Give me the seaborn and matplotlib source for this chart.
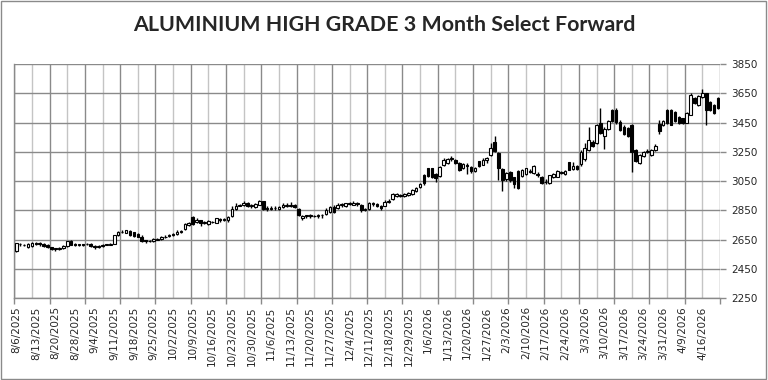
import numpy as np
import matplotlib
matplotlib.use("Agg")
import matplotlib.pyplot as plt
import seaborn as sns

title = "ALUMINIUM HIGH GRADE 3 Month Select Forward"

tick_dates = ["8/6/2025", "8/13/2025", "8/20/2025", "8/28/2025", "9/4/2025", "9/11/2025",
              "9/18/2025", "9/25/2025", "10/2/2025", "10/9/2025", "10/16/2025", "10/23/2025",
              "10/30/2025", "11/6/2025", "11/13/2025", "11/20/2025", "11/27/2025", "12/4/2025",
              "12/11/2025", "12/18/2025", "12/29/2025", "1/6/2026", "1/13/2026", "1/20/2026",
              "1/27/2026", "2/3/2026", "2/10/2026", "2/17/2026", "2/24/2026", "3/3/2026",
              "3/10/2026", "3/17/2026", "3/24/2026", "3/31/2026", "4/9/2026", "4/16/2026"]

# daily OHLC (one value per trading day)
opens = [2572, 2618, 2614, 2598, 2604, 2628, 2625, 2620, 2614, 2596,
         2588, 2584, 2590, 2604, 2640, 2618, 2614, 2616, 2618, 2620,
         2604, 2600, 2608, 2614, 2614, 2622, 2682, 2704, 2696, 2710,
         2700, 2688, 2670, 2644, 2642, 2638, 2650, 2652, 2668, 2676,
         2680, 2686, 2700, 2722, 2752, 2805, 2768, 2782, 2766, 2756,
         2772, 2764, 2792, 2782, 2780, 2812, 2856, 2882, 2888, 2898,
         2876, 2872, 2888, 2910, 2864, 2858, 2866, 2858, 2872, 2880,
         2888, 2882, 2860, 2800, 2808, 2814, 2810, 2808, 2816, 2824,
         2835, 2872, 2866, 2886, 2876, 2898, 2888, 2900, 2886, 2850,
         2860, 2896, 2892, 2880, 2880, 2906, 2925, 2946, 2952, 2948,
         2955, 2960, 2980, 3006, 3090, 3136, 3135, 3095, 3086, 3160,
         3175, 3200, 3194, 3175, 3138, 3162, 3146, 3120, 3186, 3162,
         3196, 3228, 3316, 3240, 3130, 3062, 3112, 3075, 3118, 3082,
         3098, 3120, 3104, 3098, 3080, 3046, 3034, 3078, 3080, 3110,
         3100, 3176, 3130, 3155, 3165, 3200, 3264, 3318, 3308, 3444,
         3356, 3406, 3536, 3534, 3456, 3422, 3410, 3432, 3262, 3172,
         3220, 3250, 3230, 3262, 3440, 3430, 3534, 3538, 3522, 3488,
         3478, 3448, 3502, 3616, 3572, 3622, 3648, 3592, 3568, 3614]
highs = [2628, 2628, 2622, 2628, 2634, 2636, 2632, 2626, 2618, 2600,
         2594, 2596, 2610, 2642, 2646, 2624, 2622, 2622, 2628, 2624,
         2610, 2614, 2618, 2620, 2628, 2684, 2710, 2712, 2716, 2714,
         2704, 2696, 2680, 2650, 2648, 2658, 2660, 2672, 2680, 2690,
         2692, 2714, 2718, 2765, 2768, 2812, 2795, 2786, 2775, 2784,
         2778, 2800, 2796, 2794, 2812, 2876, 2898, 2894, 2915, 2906,
         2890, 2900, 2918, 2915, 2876, 2876, 2880, 2880, 2900, 2900,
         2905, 2896, 2864, 2818, 2820, 2822, 2820, 2826, 2826, 2862,
         2876, 2885, 2900, 2902, 2902, 2908, 2910, 2908, 2890, 2866,
         2908, 2906, 2898, 2886, 2920, 2928, 2968, 2966, 2960, 2965,
         2975, 2992, 3008, 3036, 3095, 3140, 3140, 3105, 3155, 3205,
         3210, 3218, 3200, 3180, 3175, 3172, 3150, 3146, 3190, 3206,
         3215, 3307, 3357, 3250, 3136, 3112, 3120, 3080, 3124, 3130,
         3142, 3130, 3158, 3112, 3085, 3062, 3094, 3102, 3122, 3118,
         3128, 3182, 3180, 3162, 3262, 3310, 3420, 3330, 3440, 3548,
         3420, 3470, 3545, 3548, 3470, 3430, 3418, 3440, 3270, 3235,
         3256, 3270, 3266, 3300, 3470, 3470, 3540, 3545, 3528, 3494,
         3484, 3522, 3655, 3624, 3636, 3677, 3654, 3600, 3575, 3622]
lows = [2566, 2608, 2604, 2594, 2600, 2612, 2608, 2600, 2594, 2578,
        2574, 2580, 2586, 2600, 2610, 2606, 2608, 2608, 2610, 2600,
        2588, 2594, 2602, 2610, 2610, 2616, 2676, 2692, 2692, 2676,
        2670, 2664, 2636, 2626, 2630, 2634, 2644, 2648, 2660, 2670,
        2674, 2680, 2694, 2718, 2745, 2750, 2760, 2745, 2755, 2750,
        2762, 2760, 2770, 2776, 2772, 2806, 2850, 2876, 2878, 2872,
        2866, 2866, 2884, 2855, 2844, 2854, 2850, 2852, 2866, 2870,
        2870, 2866, 2808, 2786, 2796, 2800, 2802, 2800, 2798, 2818,
        2830, 2832, 2860, 2875, 2870, 2886, 2884, 2882, 2840, 2845,
        2855, 2878, 2870, 2850, 2876, 2900, 2920, 2940, 2940, 2940,
        2950, 2955, 2975, 3000, 3022, 3075, 3070, 3045, 3080, 3155,
        3168, 3185, 3165, 3120, 3134, 3100, 3105, 3110, 3145, 3158,
        3170, 3224, 3248, 3056, 2983, 3050, 3040, 3005, 2994, 3076,
        3090, 3105, 3098, 3080, 3030, 3028, 3028, 3070, 3074, 3098,
        3090, 3122, 3126, 3124, 3150, 3190, 3258, 3280, 3300, 3370,
        3272, 3400, 3455, 3440, 3395, 3365, 3350, 3114, 3180, 3165,
        3212, 3240, 3222, 3255, 3372, 3425, 3442, 3430, 3454, 3442,
        3440, 3444, 3498, 3576, 3566, 3618, 3433, 3530, 3508, 3540]
closes = [2624, 2616, 2612, 2622, 2628, 2622, 2618, 2606, 2602, 2588,
          2584, 2590, 2604, 2636, 2614, 2612, 2616, 2614, 2616, 2606,
          2596, 2606, 2612, 2616, 2622, 2680, 2702, 2700, 2712, 2684,
          2676, 2670, 2642, 2638, 2640, 2652, 2652, 2668, 2670, 2678,
          2686, 2700, 2708, 2755, 2760, 2758, 2785, 2765, 2768, 2776,
          2770, 2796, 2784, 2788, 2806, 2855, 2880, 2886, 2900, 2880,
          2882, 2895, 2912, 2860, 2858, 2868, 2862, 2874, 2882, 2886,
          2880, 2874, 2815, 2812, 2816, 2810, 2813, 2818, 2818, 2850,
          2870, 2840, 2886, 2890, 2898, 2895, 2902, 2896, 2850, 2856,
          2900, 2898, 2882, 2868, 2905, 2914, 2960, 2958, 2950, 2958,
          2968, 2986, 3000, 3030, 3035, 3082, 3078, 3072, 3148, 3195,
          3200, 3206, 3172, 3128, 3168, 3150, 3118, 3136, 3150, 3196,
          3206, 3272, 3254, 3138, 3058, 3105, 3058, 3030, 3002, 3122,
          3136, 3112, 3150, 3094, 3038, 3044, 3088, 3096, 3118, 3108,
          3120, 3128, 3150, 3130, 3250, 3272, 3328, 3288, 3430, 3378,
          3408, 3458, 3462, 3452, 3402, 3374, 3356, 3246, 3190, 3226,
          3248, 3256, 3260, 3290, 3390, 3462, 3448, 3436, 3460, 3448,
          3448, 3516, 3638, 3582, 3628, 3654, 3538, 3536, 3514, 3548]

y_ticks = [2250, 2450, 2650, 2850, 3050, 3250, 3450, 3650, 3850]

sns.set_theme(style="white")
plt.rcParams["font.family"] = ["DejaVu Sans"]

o = np.array(opens)
h = np.array(highs)
l = np.array(lows)
c = np.array(closes)
n = len(c)
x = np.arange(n)

fig = plt.figure(figsize=(7.68, 3.8), dpi=100)
ax = fig.add_axes([14.3 / 768, 82 / 380, (720 - 14.3) / 768, 234 / 380])

# grid: 40 equal divisions, darker every second one
edges = np.linspace(-0.5, n - 0.5, 41)
for k, e in enumerate(edges):
    ax.axvline(e, color="#8a8a8a" if k % 2 == 0 else "#c4c4c4", lw=1, zorder=0)
for yt in y_ticks:
    ax.axhline(yt, color="#8a8a8a", lw=1, zorder=0)

up = c >= o
ax.vlines(x, l, h, color="black", lw=1, zorder=2)
ax.bar(x, np.abs(c - o) + 0.5, bottom=np.minimum(o, c), width=0.66,
       color=np.where(up, "white", "black"), edgecolor="black", lw=0.8, zorder=3)

ax.set_xlim(-0.5, n - 0.5)
ax.set_ylim(2250, 3850)
ax.set_xticks(np.arange(0, n, 5))
ax.set_xticklabels(tick_dates, rotation=90, fontsize=7.5, va="top", ha="center")
ax.set_xticks(edges[::2], minor=True)
ax.tick_params(axis="x", which="major", length=0, pad=6)
ax.tick_params(axis="x", which="minor", length=4, width=1, color="#8a8a8a", direction="out", bottom=True)
ax.yaxis.tick_right()
ax.set_yticks(y_ticks)
ax.set_yticklabels([str(v) for v in y_ticks], fontsize=7.5)
ax.tick_params(axis="y", length=4, width=1, color="#8a8a8a", direction="out", pad=4, right=True)

for s in ["top", "right"]:
    ax.spines[s].set_visible(False)
for s in ["left", "bottom"]:
    ax.spines[s].set_color("#8a8a8a")
    ax.spines[s].set_linewidth(1)

fig.text(0.5, 1 - 25 / 380, title, ha="center", va="center",
         fontsize=15.4, fontweight="bold", family=["Lato", "DejaVu Sans"])

fig.patches.append(plt.Rectangle((0.001, 0.002), 0.997, 0.995, transform=fig.transFigure,
                                 fill=False, edgecolor="#8a8a8a", lw=1))

fig.savefig("out.png", dpi=100)
